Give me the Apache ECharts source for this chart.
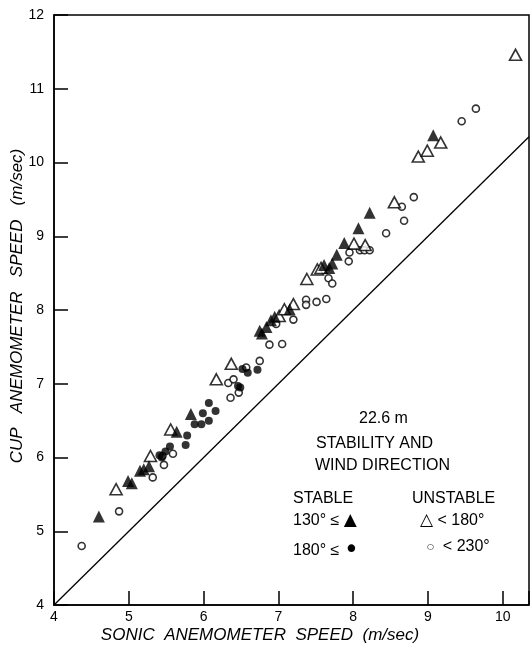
<!DOCTYPE html>
<html>
<head>
<meta charset="utf-8">
<script src="https://cdn.jsdelivr.net/npm/echarts@6/dist/echarts.min.js"></script>
<style>
  html, body { margin: 0; padding: 0; background: #fff; }
  #chart { width: 532px; height: 646px; }
</style>
</head>
<body>
<div id="chart"></div>
<script>
// data: [sonic, cup] in m/sec
const stableTri = [
    [4.60, 5.20], [4.99, 5.68], [5.04, 5.65], [5.15, 5.82], [5.20, 5.84], [5.27, 5.88],
    [5.64, 6.35], [5.83, 6.59], [6.75, 7.72], [6.78, 7.68], [6.84, 7.77], [6.90, 7.86],
    [6.95, 7.91], [7.15, 8.01], [7.61, 8.61], [7.68, 8.57], [7.72, 8.63], [7.78, 8.75],
    [7.88, 8.91], [8.07, 9.11], [8.22, 9.32], [9.07, 10.37]
];
const stableDot = [
    [5.41, 6.03], [5.44, 6.00], [5.49, 6.08], [5.55, 6.15], [5.76, 6.17], [5.78, 6.30],
    [5.88, 6.45], [5.97, 6.45], [5.99, 6.60], [6.07, 6.50], [6.07, 6.74], [6.16, 6.63],
    [6.46, 6.97], [6.49, 6.95], [6.52, 7.20], [6.59, 7.15], [6.72, 7.19]
];
const unstableTri = [
    [4.83, 5.57], [5.29, 6.02], [5.56, 6.38], [6.17, 7.06], [6.37, 7.27], [7.01, 7.92],
    [7.08, 8.01], [7.20, 8.08], [7.38, 8.42], [7.52, 8.55], [7.57, 8.57], [8.01, 8.90],
    [8.16, 8.88], [8.55, 9.46], [8.87, 10.08], [8.99, 10.16], [9.17, 10.27], [10.17, 11.46]
];
const unstableCircle = [
    [4.37, 4.80], [4.87, 5.27], [5.32, 5.73], [5.45, 6.02], [5.47, 5.90], [5.59, 6.05],
    [6.33, 7.01], [6.36, 6.81], [6.40, 7.06], [6.47, 6.88], [6.57, 7.22], [6.75, 7.31],
    [6.88, 7.53], [7.05, 7.54], [6.97, 7.81], [7.20, 7.87], [7.37, 8.14], [7.37, 8.07],
    [7.51, 8.11], [7.64, 8.15], [7.67, 8.43], [7.72, 8.36], [7.94, 8.66], [7.95, 8.78],
    [8.09, 8.81], [8.15, 8.81], [8.22, 8.81], [8.44, 9.04], [8.65, 9.40], [8.68, 9.21],
    [8.81, 9.53], [9.45, 10.56], [9.64, 10.73]
];
// 1:1 reference line
const identityLine = [[4, 4], [10.35, 10.35]];

const xRange = [4, 10.35];
const yRange = [4, 12];

const FONT = '"Liberation Sans", Arial, sans-serif';
const chart = echarts.init(document.getElementById('chart'));

const openStyle = { color: '#fff', borderColor: '#000', borderWidth: 1.6 };
const txt = { fontFamily: FONT, fontSize: 16, fill: '#000' };
const rich = {
    tri: { fontFamily: 'DejaVu Sans', fontSize: 17, fill: '#000' },
    otri: { fontFamily: 'DejaVu Sans', fontSize: 17, fill: '#000' },
    dot: { fontFamily: 'DejaVu Sans', fontSize: 26, fill: '#000' },
    ocirc: { fontFamily: 'DejaVu Sans', fontSize: 8, fill: '#000' }
};

chart.setOption({
    animation: false,
    backgroundColor: '#fff',
    grid: { left: 54, right: 2, top: 15, bottom: 41, show: true, borderColor: '#000', borderWidth: 1.5 },
    xAxis: {
        type: 'value', min: xRange[0], max: xRange[1], interval: 1,
        axisLine: { lineStyle: { color: '#000', width: 1.5 } },
        axisTick: { inside: true, length: 14, lineStyle: { color: '#000', width: 1.5 } },
        axisLabel: { fontFamily: FONT, fontSize: 14, color: '#000', margin: 5,
            formatter: v => (v > 10.1 ? '' : v) },
        splitLine: { show: false }
    },
    yAxis: {
        type: 'value', min: yRange[0], max: yRange[1], interval: 1,
        axisLine: { lineStyle: { color: '#000', width: 1.5 } },
        axisTick: { inside: true, length: 14, lineStyle: { color: '#000', width: 1.5 } },
        axisLabel: { fontFamily: FONT, fontSize: 14, color: '#000', margin: 10 },
        splitLine: { show: false }
    },
    graphic: [
        // axis titles
        { type: 'text', x: 260, y: 635, style: { text: 'SONIC  ANEMOMETER  SPEED  (m/sec)',
            font: 'italic 17px ' + FONT, fill: '#000', align: 'center', verticalAlign: 'middle' } },
        { type: 'text', x: 17, y: 306, rotation: Math.PI / 2, style: { text: 'CUP   ANEMOMETER   SPEED   (m/sec)',
            font: 'italic 17px ' + FONT, fill: '#000', align: 'center', verticalAlign: 'middle' } },
        // legend block
        { type: 'text', left: 359, top: 411, style: { text: '22.6 m', ...txt } },
        { type: 'text', left: 316, top: 436, style: { text: 'STABILITY AND', ...txt } },
        { type: 'text', left: 315, top: 458, style: { text: 'WIND DIRECTION', ...txt } },
        { type: 'text', left: 293, top: 491, style: { text: 'STABLE', ...txt } },
        { type: 'text', left: 412, top: 491, style: { text: 'UNSTABLE', ...txt } },
        { type: 'text', left: 293, top: 512, style: { text: '130° ≤ {tri|▲}', ...txt, rich } },
        { type: 'text', left: 420, top: 512, style: { text: '{otri|△} < 180°', ...txt, rich } },
        { type: 'text', left: 293, top: 538, style: { text: '180° ≤ {dot|•}', ...txt, rich } },
        { type: 'text', left: 427, top: 539, style: { text: '{ocirc|○}  < 230°', ...txt, rich } }
    ],
    series: [
        { type: 'line', data: identityLine, symbol: 'none', lineStyle: { color: '#000', width: 1.3 } },
        { type: 'scatter', data: unstableCircle, symbol: 'circle', symbolSize: 7, itemStyle: openStyle },
        { type: 'scatter', data: stableDot, symbol: 'circle', symbolSize: 8, itemStyle: { color: '#000' } },
        { type: 'scatter', data: unstableTri, symbol: 'triangle', symbolSize: [12, 11], itemStyle: openStyle },
        { type: 'scatter', data: stableTri, symbol: 'triangle', symbolSize: [12, 12], itemStyle: { color: '#000' } }
    ]
});
</script>
</body>
</html>
